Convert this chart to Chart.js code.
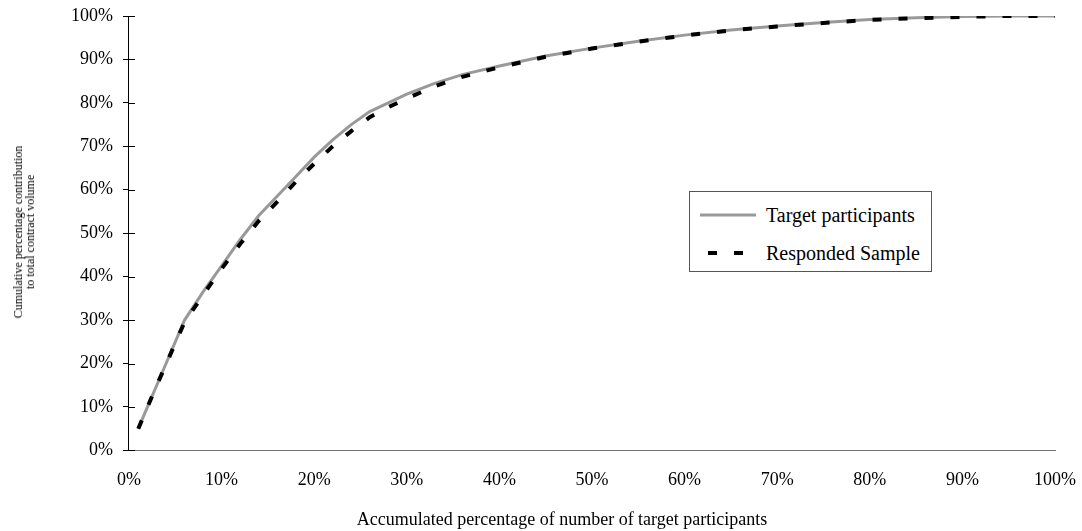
<!DOCTYPE html>
<html>
<head>
<meta charset="utf-8">
<script src="https://cdn.jsdelivr.net/npm/chart.js@4"></script>
<style>
  html, body { margin: 0; padding: 0; background: #fff; }
  #wrap { position: relative; width: 1082px; height: 531px; font-family: "Liberation Serif", "Times New Roman", Tinos, "DejaVu Serif", serif; color: #000; }
  #c { position: absolute; left: 0; top: 0; }
  #xtitle { position: absolute; left: 562px; top: 519px; transform: translate(-50%, -50%); font-size: 18px; white-space: nowrap; }
  #ytitle { position: absolute; left: 24px; top: 232px; transform: translate(-50%, -50%) rotate(-90deg); font-size: 12px; line-height: 12px; text-align: center; white-space: nowrap; }
  #legend { position: absolute; left: 689px; top: 191px; width: 241px; height: 79px; border: 1px solid #555; background: #fff; font-size: 20px; }
  .row { position: absolute; left: 0; height: 24px; display: flex; align-items: center; }
  .row svg { margin-left: 10px; margin-right: 10px; }
</style>
</head>
<body>
<div id="wrap">
  <canvas id="c" width="1082" height="531"></canvas>
  <div id="ytitle">Cumulative percentage contribution<br>to total contract volume</div>
  <div id="xtitle">Accumulated percentage of number of target participants</div>
  <div id="legend">
    <div class="row" style="top:11px"><svg width="56" height="6"><line x1="0" y1="3" x2="56" y2="3" stroke="#999" stroke-width="3"/></svg><span>Target participants</span></div>
    <div class="row" style="top:49px"><svg width="56" height="6"><line x1="8" y1="3" x2="56" y2="3" stroke="#000" stroke-width="4" stroke-dasharray="9 17"/></svg><span>Responded Sample</span></div>
  </div>
</div>
<script>
const xValues = [1, 2, 3, 4, 5, 6, 8, 10, 12, 14, 16, 18, 20, 22, 24, 26, 28, 30, 33, 36, 40, 45, 50, 55, 60, 65, 70, 75, 80, 85, 90, 95, 100];
const targetParticipants = [5, 10, 15, 20, 25, 30, 36.5, 42.5, 48.5, 54, 58.5, 63, 67.5, 71.5, 75, 78, 80, 82, 84.5, 86.5, 88.5, 90.8, 92.6, 94.2, 95.6, 96.8, 97.7, 98.5, 99.2, 99.6, 99.9, 100, 100];
const respondedSample = [5, 10, 15, 19.8, 24.7, 29.5, 35.8, 41.8, 47.5, 52.8, 57.2, 61.8, 66, 70, 73.5, 76.7, 79, 81, 83.8, 86, 88.2, 90.6, 92.5, 94.1, 95.5, 96.7, 97.6, 98.4, 99.1, 99.5, 99.8, 100, 100];
const yTicks = [0, 10, 20, 30, 40, 50, 60, 70, 80, 90, 100];
const xTicks = [0, 10, 20, 30, 40, 50, 60, 70, 80, 90, 100];

const FONT = '"Liberation Serif", "Times New Roman", Tinos, "DejaVu Serif", serif';

const innerTicks = {
  id: 'innerTicks',
  afterDraw(chart) {
    const ctx = chart.ctx, y = chart.scales.y, left = chart.chartArea.left;
    ctx.save();
    ctx.strokeStyle = '#000';
    ctx.lineWidth = 1;
    yTicks.forEach(v => {
      const py = Math.round(y.getPixelForValue(v)) + 0.5;
      ctx.beginPath();
      ctx.moveTo(left, py);
      ctx.lineTo(left + 6, py);
      ctx.stroke();
    });
    ctx.restore();
  }
};

new Chart(document.getElementById('c'), {
  type: 'line',
  data: {
    datasets: [
      {
        label: 'Target participants',
        data: xValues.map((x, i) => ({ x, y: targetParticipants[i] })),
        borderColor: '#999999',
        borderWidth: 3,
        pointRadius: 0,
        tension: 0,
        order: 2
      },
      {
        label: 'Responded Sample',
        data: xValues.map((x, i) => ({ x, y: respondedSample[i] })),
        borderColor: '#000000',
        borderWidth: 4,
        borderDash: [9, 17],
        borderCapStyle: 'butt',
        pointRadius: 0,
        tension: 0,
        order: 1
      }
    ]
  },
  options: {
    responsive: false,
    animation: false,
    layout: { padding: { left: 61, right: 27, top: 16, bottom: 21 } },
    plugins: { legend: { display: false }, tooltip: { enabled: false } },
    scales: {
      x: {
        type: 'linear',
        min: 0, max: 100,
        afterBuildTicks: s => { s.ticks = xTicks.map(v => ({ value: v })); },
        afterFit: s => { s.paddingLeft = 0; s.paddingRight = 0; },
        grid: { display: true, drawOnChartArea: false, drawTicks: false },
        border: { display: true, color: '#707070', width: 1 },
        ticks: { color: '#000', font: { family: FONT, size: 18 }, padding: 19, maxRotation: 0, callback: v => v + '%' }
      },
      y: {
        type: 'linear',
        min: 0, max: 100,
        afterBuildTicks: s => { s.ticks = yTicks.map(v => ({ value: v })); },
        afterFit: s => { s.paddingTop = 0; s.paddingBottom = 0; },
        grid: { display: true, drawOnChartArea: false, drawTicks: true, tickLength: 6, color: '#000' },
        border: { display: true, color: '#000', width: 1 },
        ticks: { color: '#000', font: { family: FONT, size: 18 }, padding: 10, callback: v => v + '%' }
      }
    }
  },
  plugins: [innerTicks]
});
</script>
</body>
</html>
